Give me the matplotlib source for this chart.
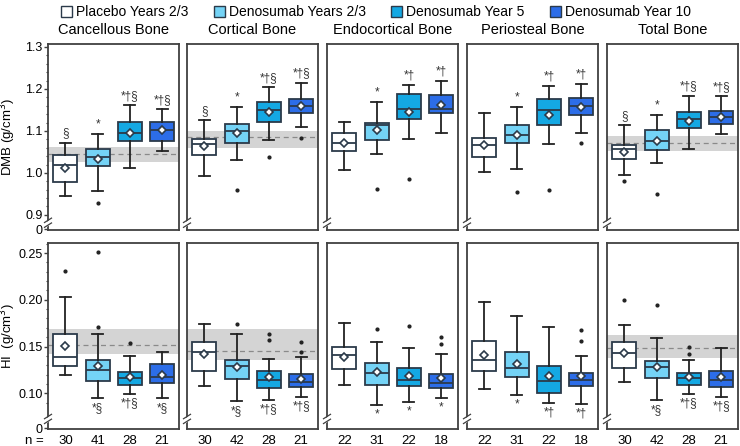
import matplotlib
matplotlib.use("Agg")
import matplotlib.pyplot as plt
from matplotlib.patches import Patch
import numpy as np

plt.rcParams['font.family'] = ['Liberation Sans', 'DejaVu Sans']

regions = ['Cancellous Bone', 'Cortical Bone', 'Endocortical Bone', 'Periosteal Bone', 'Total Bone']
groups = ['Placebo Years 2/3', 'Denosumab Years 2/3', 'Denosumab Year 5', 'Denosumab Year 10']
colors = ['#ffffff', '#74d3f6', '#14a8e3', '#2c6de8']
n_counts = [[30, 41, 28, 21], [30, 42, 28, 21], [22, 31, 22, 18], [22, 31, 22, 18], [30, 42, 28, 21]]

# ---- DMB (top row) ----
dmb_whislo = [[0.945, 0.956, 1.012, 1.051], [0.993, 1.031, 1.079, 1.110], [1.007, 1.045, 1.080, 1.095],
              [1.002, 1.009, 1.070, 1.094], [0.994, 1.023, 1.056, 1.093]]
dmb_q1 = [[0.979, 1.017, 1.075, 1.077], [1.042, 1.071, 1.122, 1.142], [1.052, 1.079, 1.128, 1.142],
          [1.039, 1.071, 1.113, 1.137], [1.033, 1.055, 1.106, 1.117]]
dmb_med = [[1.018, 1.038, 1.096, 1.103], [1.070, 1.100, 1.150, 1.159], [1.072, 1.114, 1.152, 1.152],
           [1.066, 1.091, 1.150, 1.159], [1.056, 1.075, 1.129, 1.133]]
dmb_q3 = [[1.043, 1.056, 1.121, 1.121], [1.080, 1.117, 1.169, 1.177], [1.095, 1.120, 1.187, 1.185],
          [1.084, 1.115, 1.175, 1.179], [1.067, 1.101, 1.146, 1.148]]
dmb_whishi = [[1.072, 1.093, 1.161, 1.152], [1.125, 1.158, 1.204, 1.215], [1.121, 1.169, 1.209, 1.218],
              [1.142, 1.158, 1.207, 1.211], [1.113, 1.137, 1.184, 1.182]]
dmb_mean = [[1.011, 1.032, 1.095, 1.102], [1.064, 1.095, 1.144, 1.159], [1.072, 1.102, 1.146, 1.161],
            [1.066, 1.090, 1.139, 1.156], [1.050, 1.075, 1.124, 1.133]]
dmb_fliers = [[[], [0.929], [], []], [[], [0.959], [1.038], [1.084]], [[], [0.961], [0.986], []],
              [[], [0.955], [0.960], [1.072]], [[0.981], [0.949], [], []]]
dmb_sig = [['§', '*', '*†§', '*†§'], ['§', '*', '*†§', '*†§'], ['', '*', '*†', '*†'],
           ['', '*', '*†', '*†'], ['§', '*', '*†§', '*†§']]
dmb_ref = [(1.027, 1.044, 1.061), (1.059, 1.085, 1.100), None, None, (1.052, 1.071, 1.088)]

# ---- HI (bottom row) ----
hi_whislo = [[0.1199, 0.0946, 0.0996, 0.0946], [0.1078, 0.0914, 0.0928, 0.0960], [0.1089, 0.0878, 0.0907, 0.0953],
             [0.1046, 0.0979, 0.0896, 0.0889], [0.1121, 0.0925, 0.0996, 0.0960]]
hi_q1 = [[0.1292, 0.1128, 0.1089, 0.1113], [0.1242, 0.1156, 0.1060, 0.1067], [0.1257, 0.1089, 0.1078, 0.1053],
         [0.1239, 0.1178, 0.1000, 0.1075], [0.1267, 0.1167, 0.1092, 0.1064]]
hi_med = [[0.1385, 0.1249, 0.1160, 0.1171], [0.1442, 0.1295, 0.1139, 0.1121], [0.1410, 0.1220, 0.1142, 0.1113],
          [0.1359, 0.1271, 0.1132, 0.1146], [0.1431, 0.1285, 0.1160, 0.1139]]
hi_q3 = [[0.1631, 0.1353, 0.1231, 0.1317], [0.1552, 0.1353, 0.1242, 0.1210], [0.1492, 0.1321, 0.1271, 0.1203],
         [0.1563, 0.1442, 0.1292, 0.1220], [0.1545, 0.1345, 0.1220, 0.1242]]
hi_whishi = [[0.2033, 0.1631, 0.1402, 0.1445], [0.1741, 0.1631, 0.1364, 0.1392], [0.1755, 0.1549, 0.1485, 0.1420],
             [0.1977, 0.1823, 0.1712, 0.1396], [0.1734, 0.1591, 0.1353, 0.1481]]
hi_mean = [[0.1506, 0.1292, 0.1171, 0.1193], [0.1417, 0.1285, 0.1171, 0.1156], [0.1392, 0.1231, 0.1188, 0.1167],
           [0.1413, 0.1313, 0.1182, 0.1182], [0.1435, 0.1285, 0.1178, 0.1178]]
hi_fliers = [[[0.2311], [0.1712, 0.2511], [0.1535], []], [[], [0.1744], [0.1567, 0.1634], [0.1445, 0.1545]],
             [[], [0.1685], [0.1717], [0.1524, 0.1605]], [[], [], [], [0.1563, 0.1674]],
             [[0.1998], [0.1948], [0.1417, 0.1498], []]]
hi_sig = [['', '*§', '*†§', '*§'], ['', '*§', '*†§', '*†§'], ['', '*', '*', '*'],
          ['', '*', '*†', '*†'], ['', '*§', '*†§', '*†§']]
hi_ref = [(0.1421, 0.1517, 0.1685), (0.1359, 0.1449, 0.1685), None, None, (0.1381, 0.1481, 0.1627)]

dmb_ticks = [0.9, 1.0, 1.1, 1.2, 1.3]
hi_ticks = [0.10, 0.15, 0.20, 0.25]

W, H = 740, 446
fig = plt.figure(figsize=(7.4, 4.46), dpi=100)

lefts = [48, 187, 327, 467, 607]
pw = 131
rows = [(44, 230), (243, 429)]

edge = '#2b3a4a'
spine_c = '#404040'


def draw_break(ax, yfrac):
    dx = 3.5 / pw
    dy = 2.2 / 186
    ax.plot([-dx, dx], [yfrac - 2 * dy, yfrac + 0.2 * dy], transform=ax.transAxes,
            color='white', lw=3, clip_on=False, zorder=10, solid_capstyle='butt')
    for off in (-1.6 * dy, 0.6 * dy):
        ax.plot([-dx, dx], [yfrac + off - dy, yfrac + off + dy], transform=ax.transAxes,
                color=spine_c, lw=0.9, clip_on=False, zorder=11)


row_cfg = [
    dict(whislo=dmb_whislo, q1=dmb_q1, med=dmb_med, q3=dmb_q3, whishi=dmb_whishi, mean=dmb_mean,
         fliers=dmb_fliers, sig=dmb_sig, ref=dmb_ref, ylim=(0.864, 1.307), zero=0.866,
         ticks=dmb_ticks, fmt='{:.1f}', minor=np.arange(0.90, 1.301, 0.02), label='DMB (g/cm$^3$)',
         brk=0.045, up=True),
    dict(whislo=hi_whislo, q1=hi_q1, med=hi_med, q3=hi_q3, whishi=hi_whishi, mean=hi_mean,
         fliers=hi_fliers, sig=hi_sig, ref=hi_ref, ylim=(0.0618, 0.2607), zero=0.0625,
         ticks=hi_ticks, fmt='{:.2f}', minor=np.arange(0.09, 0.2601, 0.01), label='HI  (g/cm$^3$)',
         brk=0.06, up=False),
]

for r, cfg in enumerate(row_cfg):
    top, bot = rows[r]
    for c in range(5):
        ax = fig.add_axes([lefts[c] / W, 1 - bot / H, pw / W, (bot - top) / H])
        stats = []
        for g in range(4):
            stats.append(dict(whislo=cfg['whislo'][c][g], q1=cfg['q1'][c][g], med=cfg['med'][c][g],
                              q3=cfg['q3'][c][g], whishi=cfg['whishi'][c][g], mean=cfg['mean'][c][g],
                              fliers=cfg['fliers'][c][g]))
        ref = cfg['ref'][c]
        if ref is not None:
            ax.axhspan(ref[0], ref[2], color='#d4d4d4', lw=0, zorder=0)
            ax.axhline(ref[1], color='#8a8a8a', ls=(0, (4, 3)), lw=0.9, zorder=0.5)
        bp = ax.bxp(stats, positions=range(4), widths=0.74, patch_artist=True, showmeans=True,
                    capwidths=0.34,
                    boxprops=dict(edgecolor=edge, linewidth=1.3),
                    medianprops=dict(color=edge, linewidth=1.3),
                    whiskerprops=dict(color='#222222', linewidth=1.3),
                    capprops=dict(color='#222222', linewidth=1.3),
                    meanprops=dict(marker='D', markerfacecolor='white', markeredgecolor=edge,
                                   markersize=4, markeredgewidth=1.2),
                    flierprops=dict(marker='o', markerfacecolor='#222222', markeredgecolor='#222222',
                                    markersize=2))
        for patch, col in zip(bp['boxes'], colors):
            patch.set_facecolor(col)
        for g in range(4):
            s = cfg['sig'][c][g]
            if not s:
                continue
            if cfg['up']:
                ax.annotate(s, (g, cfg['whishi'][c][g]), xytext=(0, 2.5), textcoords='offset points',
                            ha='center', va='bottom', fontsize=8.5, color='#333333')
            else:
                ax.annotate(s, (g, cfg['whislo'][c][g]), xytext=(0, -2.5), textcoords='offset points',
                            ha='center', va='top', fontsize=8.5, color='#333333')
        ax.set_xlim(-0.54, 3.52)
        ax.set_ylim(*cfg['ylim'])
        ax.set_xticks([])
        for sp in ax.spines.values():
            sp.set_color(spine_c)
            sp.set_linewidth(1.3)
        if c == 0:
            ax.set_yticks([cfg['zero']] + cfg['ticks'])
            ax.set_yticklabels(['0'] + [cfg['fmt'].format(t) for t in cfg['ticks']], fontsize=9)
            ax.set_yticks(cfg['minor'], minor=True)
            ax.tick_params(axis='y', which='major', length=3, width=1, color=spine_c, pad=1)
            ax.tick_params(axis='y', which='minor', length=1.5, width=0.8, color=spine_c)
            ax.set_ylabel(cfg['label'], fontsize=9.5, va='center')
            ax.yaxis.set_label_coords(-0.30, 0.5)
        else:
            ax.set_yticks([])
        draw_break(ax, cfg['brk'])
        if r == 0:
            ax.set_title(regions[c], fontsize=10.5, pad=7)
        else:
            for g in range(4):
                ax.annotate(str(n_counts[c][g]), (g, 0), xycoords=('data', 'axes fraction'),
                            xytext=(0, -8.8), textcoords='offset points', ha='center', va='center',
                            fontsize=9.5)
            if c == 0:
                ax.annotate('n =', (0, 0), xycoords='axes fraction', xytext=(-3, -8.8),
                            textcoords='offset points', ha='right', va='center', fontsize=9.5)

handles = [Patch(facecolor=col, edgecolor=edge, linewidth=1.0) for col in colors]
fig.legend(handles, groups, loc='center', bbox_to_anchor=(0.508, 0.972), ncol=4, frameon=False,
           fontsize=10, handlelength=0.8, handleheight=0.8, handletextpad=0.3, columnspacing=1.8,
           borderaxespad=0)

fig.savefig('out.png', dpi=100)
